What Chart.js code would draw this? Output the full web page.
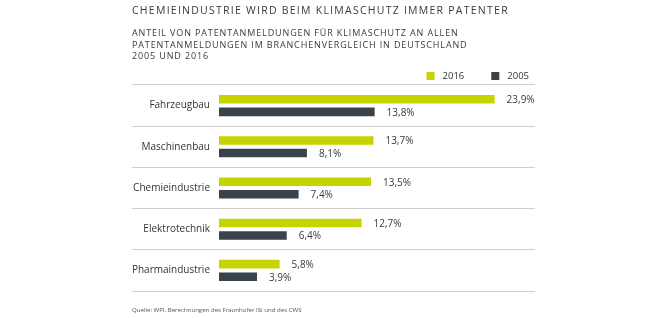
<!DOCTYPE html>
<html>
<head>
<meta charset="utf-8">
<script src="https://cdn.jsdelivr.net/npm/chart.js@4/dist/chart.umd.min.js"></script>
<style>
  html, body { margin: 0; padding: 0; background: #fff; }
  #wrap { position: relative; width: 660px; height: 318px; overflow: hidden; }
  canvas { position: absolute; left: 0; top: 0; }
  .t { position: absolute; left: 132px; font-family: "Open Sans", sans-serif; color: #3a3a3a; white-space: nowrap; }
  #title { top: 3px; font-size: 10.5px; letter-spacing: 1.25px; line-height: 14.3px; }
  #sub { top: 27px; font-size: 9px; line-height: 11.5px; letter-spacing: 0.87px; }
  #src { top: 305px; font-size: 6.1px; color: #555; }
</style>
</head>
<body>
<div id="wrap">
  <canvas id="c" width="660" height="318"></canvas>
  <div class="t" id="title">CHEMIEINDUSTRIE WIRD BEIM KLIMASCHUTZ IMMER PATENTER</div>
  <div class="t" id="sub">ANTEIL VON PATENTANMELDUNGEN FÜR KLIMASCHUTZ AN ALLEN<br>PATENTANMELDUNGEN IM BRANCHENVERGLEICH IN DEUTSCHLAND<br>2005 UND 2016</div>
  <div class="t" id="src">Quelle: WPI, Berechnungen des Fraunhofer ISI und des CWS</div>
</div>
<script>
const categories = ["Fahrzeugbau", "Maschinenbau", "Chemieindustrie", "Elektrotechnik", "Pharmaindustrie"];
const seriesNames = ["2016", "2005"];
const values2016 = [23.9, 13.7, 13.5, 12.7, 5.8];
const values2005 = [13.8, 8.1, 7.4, 6.4, 3.9];

const fmt = v => v.toFixed(1).replace('.', ',') + '%';

const valueLabels = {
  id: 'valueLabels',
  afterDatasetsDraw(chart) {
    const ctx = chart.ctx;
    ctx.save();
    ctx.font = '10px "Open Sans", sans-serif';
    ctx.fillStyle = '#3a3a3a';
    ctx.textAlign = 'left';
    ctx.textBaseline = 'middle';
    chart.data.datasets.forEach((ds, i) => {
      chart.getDatasetMeta(i).data.forEach((bar, j) => {
        ctx.fillText(fmt(ds.data[j]), bar.x + 12, bar.y + 1);
      });
    });
    ctx.restore();
  }
};

// Legend drawn from the chart's datasets, right-aligned above the plot
const topLegend = {
  id: 'topLegend',
  afterDraw(chart) {
    const ctx = chart.ctx;
    const box = 8, boxGap = 8, itemGap = 27;
    ctx.save();
    ctx.font = '9.5px "Open Sans", sans-serif';
    ctx.textBaseline = 'middle';
    ctx.textAlign = 'left';
    const cy = chart.chartArea.top - 9;
    let x = chart.chartArea.right - 6;
    const ds = chart.data.datasets.slice().reverse();
    ds.forEach((d) => {
      const w = ctx.measureText(d.label).width;
      const tx = x - w;
      const bx = tx - boxGap - box;
      ctx.fillStyle = d.backgroundColor;
      ctx.fillRect(bx, cy - box / 2, box, box);
      ctx.fillStyle = '#333';
      ctx.fillText(d.label, tx, cy + 0.5);
      x = bx - itemGap;
    });
    ctx.restore();
  }
};

new Chart(document.getElementById('c'), {
  type: 'bar',
  data: {
    labels: categories,
    datasets: [
      { label: seriesNames[0], data: values2016, backgroundColor: '#c5d400' },
      { label: seriesNames[1], data: values2005, backgroundColor: '#39434c' }
    ]
  },
  options: {
    indexAxis: 'y',
    responsive: false,
    animation: false,
    devicePixelRatio: 1,
    layout: { padding: { top: 85, right: 125, bottom: 27, left: 0 } },
    datasets: { bar: { categoryPercentage: 0.61, barPercentage: 0.68, clip: 0 } },
    scales: {
      x: { display: false, min: 0.7, max: 27.3 },
      y: {
        afterFit(scale) { scale.width = 219; },
        border: { display: false },
        grid: { color: '#cfcfcf', lineWidth: 1, offset: true, tickLength: 87, tickColor: '#cfcfcf' },
        ticks: { padding: -78, color: '#333', font: { family: '"Open Sans", sans-serif', size: 10 } }
      }
    },
    plugins: {
      title: { display: false },
      tooltip: { enabled: false },
      legend: { display: false }
    }
  },
  plugins: [valueLabels, topLegend]
});
</script>
</body>
</html>
